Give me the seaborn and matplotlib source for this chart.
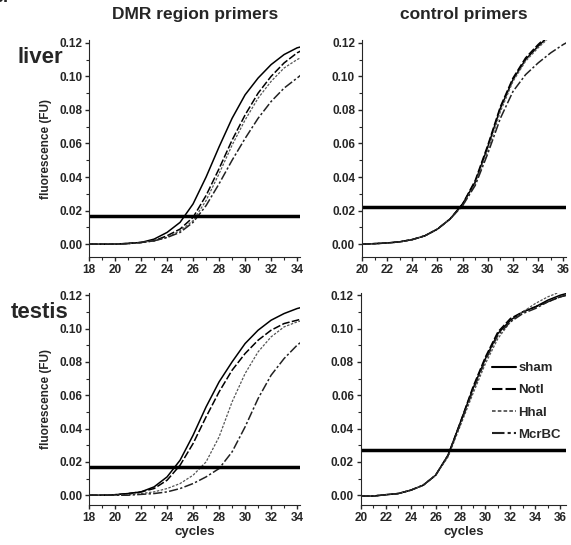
import pandas as pd
import matplotlib.pyplot as plt
import seaborn as sns
from matplotlib.ticker import AutoMinorLocator

# cycles sampled for each primer set
cycles_dmr = [18, 19, 20, 21, 22, 23, 24, 25, 26, 27, 28, 29, 30, 31, 32, 33, 34, 34.5]
cycles_ctrl = [20, 21, 22, 23, 24, 25, 26, 27, 28, 29, 30, 31, 32, 33, 34, 35, 36, 36.5]

treatments = ['sham', 'NotI', 'HhaI', 'McrBC']

# liver, DMR region primers
liver_dmr = {
    'sham':  [0, 0, 0, 0.0005, 0.001, 0.003, 0.007, 0.013, 0.024, 0.040, 0.058, 0.075, 0.089, 0.099, 0.107, 0.113, 0.117, 0.118],
    'NotI':  [0, 0, 0, 0.0004, 0.001, 0.002, 0.005, 0.009, 0.016, 0.029, 0.045, 0.062, 0.077, 0.090, 0.100, 0.108, 0.114, 0.116],
    'HhaI':  [0, 0, 0, 0.0003, 0.001, 0.002, 0.004, 0.008, 0.014, 0.026, 0.042, 0.059, 0.074, 0.087, 0.097, 0.105, 0.110, 0.112],
    'McrBC': [0, 0, 0, 0.0003, 0.001, 0.002, 0.004, 0.007, 0.013, 0.023, 0.036, 0.050, 0.063, 0.075, 0.085, 0.093, 0.099, 0.102],
}
# liver, control primers
liver_ctrl = {
    'sham':  [0, 0.0003, 0.0007, 0.0014, 0.0027, 0.005, 0.009, 0.015, 0.024, 0.037, 0.058, 0.081, 0.098, 0.110, 0.118, 0.125, 0.130, 0.132],
    'NotI':  [0, 0.0003, 0.0007, 0.0014, 0.0028, 0.005, 0.009, 0.015, 0.024, 0.038, 0.059, 0.082, 0.099, 0.111, 0.119, 0.126, 0.131, 0.133],
    'HhaI':  [0, 0.0003, 0.0006, 0.0013, 0.0026, 0.005, 0.009, 0.015, 0.023, 0.036, 0.056, 0.079, 0.097, 0.109, 0.117, 0.124, 0.129, 0.131],
    'McrBC': [0, 0.0003, 0.0007, 0.0014, 0.0027, 0.005, 0.009, 0.015, 0.023, 0.035, 0.054, 0.075, 0.091, 0.101, 0.108, 0.114, 0.119, 0.121],
}
# testis, DMR region primers
testis_dmr = {
    'sham':  [0, 0, 0.0003, 0.001, 0.002, 0.005, 0.011, 0.021, 0.036, 0.053, 0.068, 0.080, 0.091, 0.099, 0.105, 0.109, 0.112, 0.113],
    'NotI':  [0, 0, 0.0003, 0.001, 0.002, 0.004, 0.009, 0.018, 0.031, 0.047, 0.062, 0.075, 0.085, 0.093, 0.099, 0.103, 0.105, 0.106],
    'HhaI':  [0, 0, 0, 0.0003, 0.001, 0.002, 0.004, 0.007, 0.012, 0.020, 0.035, 0.056, 0.073, 0.086, 0.095, 0.101, 0.104, 0.105],
    'McrBC': [0, 0, 0, 0, 0.0005, 0.001, 0.002, 0.004, 0.007, 0.011, 0.016, 0.026, 0.041, 0.058, 0.072, 0.082, 0.090, 0.093],
}
# testis, control primers
testis_ctrl = {
    'sham':  [-0.0005, -0.0005, 0.0003, 0.001, 0.003, 0.006, 0.012, 0.024, 0.044, 0.064, 0.082, 0.097, 0.105, 0.110, 0.113, 0.117, 0.120, 0.121],
    'NotI':  [-0.0005, -0.0005, 0.0003, 0.001, 0.003, 0.006, 0.012, 0.024, 0.044, 0.065, 0.083, 0.098, 0.106, 0.110, 0.113, 0.116, 0.119, 0.120],
    'HhaI':  [-0.0005, -0.0004, 0.0003, 0.001, 0.003, 0.006, 0.012, 0.023, 0.042, 0.061, 0.079, 0.094, 0.104, 0.110, 0.115, 0.119, 0.122, 0.123],
    'McrBC': [-0.0005, -0.0005, 0.0003, 0.001, 0.003, 0.006, 0.012, 0.024, 0.043, 0.063, 0.081, 0.096, 0.104, 0.109, 0.112, 0.116, 0.119, 0.120],
}

thresholds = {'liver_dmr': 0.017, 'liver_ctrl': 0.022, 'testis_dmr': 0.017, 'testis_ctrl': 0.027}

styles = {'sham': '', 'NotI': (5, 1.5), 'HhaI': (2, 1.2), 'McrBC': (6, 1.5, 1.5, 1.5)}
colors = {'sham': 'black', 'NotI': 'black', 'HhaI': '#555555', 'McrBC': '#222222'}
widths = {'sham': 1.1, 'NotI': 1.1, 'HhaI': 0.9, 'McrBC': 1.1}


def to_long(cycles, curves):
    rows = []
    for t in treatments:
        for c, v in zip(cycles, curves[t]):
            rows.append({'cycles': c, 'fluorescence': v, 'treatment': t})
    return pd.DataFrame(rows)


sns.set_style('ticks')
plt.rcParams['font.family'] = ['Liberation Sans', 'DejaVu Sans']
plt.rcParams['font.weight'] = 'bold'

fig = plt.figure(figsize=(5.71, 5.45), dpi=100)

panels = [
    ('liver_dmr', cycles_dmr, liver_dmr, [0.156, 0.528, 0.370, 0.399], (18, 34.25), (-0.0078, 0.1218)),
    ('liver_ctrl', cycles_ctrl, liver_ctrl, [0.634, 0.528, 0.358, 0.399], (20, 36.25), (-0.0078, 0.1218)),
    ('testis_dmr', cycles_dmr, testis_dmr, [0.156, 0.073, 0.370, 0.389], (18, 34.25), (-0.006, 0.1212)),
    ('testis_ctrl', cycles_ctrl, testis_ctrl, [0.632, 0.073, 0.360, 0.389], (20, 36.5), (-0.006, 0.1212)),
]

axes = {}
for name, cyc, curves, pos, xl, yl in panels:
    ax = fig.add_axes(pos)
    axes[name] = ax
    df = to_long(cyc, curves)
    sns.lineplot(data=df, x='cycles', y='fluorescence', hue='treatment', style='treatment',
                 hue_order=treatments, style_order=treatments, palette=colors,
                 dashes=styles, size='treatment', sizes=widths, ax=ax, legend=False)
    ax.axhline(thresholds[name], color='black', lw=2.5)
    ax.set_xlim(*xl)
    ax.set_ylim(*yl)
    ax.set_xticks(range(int(xl[0]), int(xl[1]) + 1, 2))
    ax.set_yticks([0.00, 0.02, 0.04, 0.06, 0.08, 0.10, 0.12])
    ax.set_yticklabels(['0.00', '0.02', '0.04', '0.06', '0.08', '0.10', '0.12'])
    ax.xaxis.set_minor_locator(AutoMinorLocator(2))
    ax.yaxis.set_minor_locator(AutoMinorLocator(2))
    ax.tick_params(which='major', length=3, width=1, labelsize=8.5, pad=2)
    ax.tick_params(which='minor', length=2, width=0.8)
    for lab in ax.get_xticklabels() + ax.get_yticklabels():
        lab.set_fontweight('bold')
    sns.despine(ax=ax)
    ax.set_xlabel('')
    ax.set_ylabel('')

for name in ['liver_dmr', 'testis_dmr']:
    axes[name].set_ylabel('fluorescence (FU)', fontsize=8.5, fontweight='bold', labelpad=5)
for name in ['testis_dmr', 'testis_ctrl']:
    axes[name].set_xlabel('cycles', fontsize=9.5, fontweight='bold', labelpad=1)

axes['liver_dmr'].set_title('DMR region primers', fontsize=12.5, fontweight='bold', pad=15)
axes['liver_ctrl'].set_title('control primers', fontsize=12.5, fontweight='bold', pad=15)

fig.text(0.03, 0.895, 'liver', fontsize=16, fontweight='bold', ha='left', va='center')
fig.text(0.018, 0.426, 'testis', fontsize=16, fontweight='bold', ha='left', va='center')
fig.text(-0.012, 1.005, 'b.', fontsize=13, fontweight='bold', ha='left', va='center')

# legend in the testis control panel
handles = []
for t in treatments:
    h, = axes['testis_ctrl'].plot([], [], color=colors[t], lw=widths[t] + 0.4,
                                  dashes=styles[t] if styles[t] else (None, None), label=t)
    handles.append(h)
leg = axes['testis_ctrl'].legend(handles=handles, loc='center right', bbox_to_anchor=(1.03, 0.49),
                                 frameon=False, handlelength=1.8, handletextpad=0.2,
                                 labelspacing=0.75, prop={'weight': 'bold', 'size': 9.5})

fig.savefig('out.png', dpi=100)
